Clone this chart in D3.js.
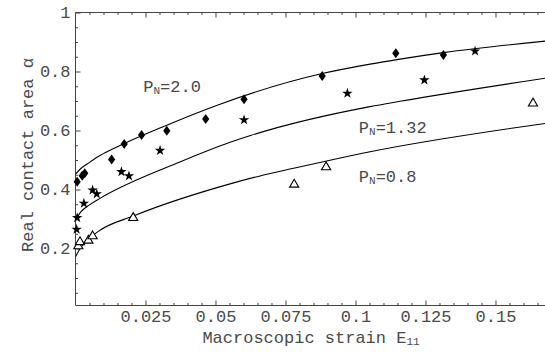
<!DOCTYPE html>
<html><head><meta charset="utf-8">
<script src="https://cdn.jsdelivr.net/npm/d3@7"></script>
<style>body{margin:0;background:#fff}svg{display:block}</style>
</head><body><svg id="c" width="545" height="354"></svg>
<script>
// ---- data ----
const xTicks = [0.025, 0.05, 0.075, 0.1, 0.125, 0.15];
const xTickLabels = ["0.025", "0.05", "0.075", "0.1", "0.125", "0.15"];
const yTicks = [0.2, 0.4, 0.6, 0.8, 1];
const yTickLabels = ["0.2", "0.4", "0.6", "0.8", "1"];
const xMinorTicks = [0.005,0.01,0.015,0.02,0.03,0.035,0.04,0.045,0.055,0.06,0.065,0.07,0.08,0.085,0.09,0.095,0.105,0.11,0.115,0.12,0.13,0.135,0.14,0.145,0.155,0.16,0.165];
const yMinorTicks = [0.05,0.1,0.15,0.25,0.3,0.35,0.45,0.5,0.55,0.65,0.7,0.75,0.85,0.9,0.95];

// fitted curves [E11, alpha]
const fitP20 = [[0,0.452],[0.002,0.472],[0.005,0.492],[0.00875,0.515],[0.015,0.545],[0.0326,0.618],[0.0504,0.685],[0.0881,0.793],[0.1052,0.825],[0.1159,0.842],[0.1314,0.864],[0.1677,0.903]];
const fitP132 = [[0,0.297],[0.002,0.325],[0.005,0.348],[0.00875,0.37],[0.0375,0.494],[0.0552,0.56],[0.0625,0.583],[0.1052,0.681],[0.1159,0.699],[0.1677,0.777]];
const fitP08 = [[0,0.172],[0.002,0.205],[0.005,0.235],[0.00875,0.262],[0.0206,0.31],[0.0552,0.419],[0.0659,0.446],[0.0779,0.472],[0.0893,0.496],[0.1052,0.528],[0.1677,0.624]];

// measured points [E11, alpha]
const ptsP20 = [[0.0006,0.426],[0.0024,0.447],[0.0033,0.455],[0.0129,0.502],[0.0174,0.554],[0.0236,0.585],[0.0326,0.599],[0.0465,0.639],[0.0602,0.706],[0.0881,0.785],[0.1144,0.862],[0.1314,0.856]];
const ptsP132 = [[0.0004,0.265],[0.0006,0.304],[0.0030,0.353],[0.0061,0.398],[0.0076,0.385],[0.0164,0.46],[0.0191,0.446],[0.0302,0.532],[0.0602,0.636],[0.0971,0.726],[0.1246,0.771],[0.1427,0.869]];
const ptsP08 = [[0.0010,0.212],[0.0016,0.226],[0.0046,0.231],[0.0061,0.246],[0.0206,0.308],[0.0781,0.421],[0.0895,0.48],[0.1634,0.696]];

const curveLabels = [
  {p:"2.0", e:0.0242, a:0.729},
  {p:"1.32", e:0.1012, a:0.593},
  {p:"0.8", e:0.1012, a:0.424}
];

// ---- drawing ----
const FONT = "'Liberation Mono', 'Courier New', monospace";
const FS = 17;
const TXT = "#4a4a4a";
const svg = d3.select("#c");
const x = d3.scaleLinear().domain([0, 0.16768]).range([75.5, 545]);
const y = d3.scaleLinear().domain([0.0068, 1]).range([305.5, 12.5]);
const y0 = y.range()[0], y1 = y.range()[1], x0 = x.range()[0], x1 = x.range()[1];

// frame
svg.append("path")
  .attr("d", `M${x1},${y1}H${x0}V${y0}H${x1}`)
  .attr("fill", "none").attr("stroke", "#444").attr("stroke-width", 1);

function styleAxis(g){
  g.select(".domain").remove();
  g.selectAll("line").attr("stroke", "#444");
  g.selectAll("text").attr("fill", TXT).attr("font-family", FONT).attr("font-size", FS);
}
// bottom
svg.append("g").attr("transform", `translate(0,${y0})`)
  .call(d3.axisBottom(x).tickValues(xTicks).tickFormat((d,i)=>xTickLabels[i]).tickSizeInner(-5).tickSizeOuter(0).tickPadding(4.5))
  .call(styleAxis);
svg.append("g").attr("transform", `translate(0,${y0})`)
  .call(d3.axisBottom(x).tickValues(xMinorTicks).tickFormat("").tickSizeInner(-2.5).tickSizeOuter(0))
  .call(styleAxis);
// top
svg.append("g").attr("transform", `translate(0,${y1})`)
  .call(d3.axisTop(x).tickValues(xTicks).tickFormat("").tickSizeInner(-5).tickSizeOuter(0))
  .call(styleAxis);
svg.append("g").attr("transform", `translate(0,${y1})`)
  .call(d3.axisTop(x).tickValues(xMinorTicks).tickFormat("").tickSizeInner(-2.5).tickSizeOuter(0))
  .call(styleAxis);
// left
svg.append("g").attr("transform", `translate(${x0},0)`)
  .call(d3.axisLeft(y).tickValues(yTicks).tickFormat((d,i)=>yTickLabels[i]).tickSizeInner(-5).tickSizeOuter(0).tickPadding(5))
  .call(styleAxis);
svg.append("g").attr("transform", `translate(${x0},0)`)
  .call(d3.axisLeft(y).tickValues(yMinorTicks).tickFormat("").tickSizeInner(-2.5).tickSizeOuter(0))
  .call(styleAxis);

// axis titles
const xt = svg.append("text").attr("x", 311).attr("y", 343).attr("text-anchor", "middle")
  .attr("font-family", FONT).attr("font-size", FS).attr("fill", TXT);
xt.append("tspan").text("Macroscopic strain E");
xt.append("tspan").attr("font-size", 11).attr("dy", 2).text("11");

svg.append("text").attr("transform", "translate(33,155) rotate(-90)").attr("text-anchor", "middle")
  .attr("font-family", FONT).attr("font-size", FS).attr("fill", TXT)
  .text("Real contact area α");

// curves
const line = d3.line().x(d=>x(d[0])).y(d=>y(d[1])).curve(d3.curveMonotoneX);
svg.append("clipPath").attr("id","pc").append("rect")
  .attr("x", x0).attr("y", y1).attr("width", x1-x0).attr("height", y0-y1);
[fitP20, fitP132, fitP08].forEach(s=>{
  svg.append("path").datum(s).attr("d", line).attr("fill","none")
    .attr("stroke","#000").attr("stroke-width",1.1).attr("clip-path","url(#pc)");
});

// markers
const diamond = "M0,-5L3.6,0L0,5L-3.6,0Z";
const tri = "M0,-4L4.6,3.8L-4.6,3.8Z";
svg.append("g").selectAll("path").data(ptsP20).join("path")
  .attr("transform", d=>`translate(${x(d[0])},${y(d[1])})`).attr("d", diamond).attr("fill","#000");
svg.append("g").selectAll("path").data(ptsP132).join("path")
  .attr("transform", d=>`translate(${x(d[0])},${y(d[1])})`).attr("d", d3.symbol(d3.symbolStar, 34)).attr("fill","#000");
svg.append("g").selectAll("path").data(ptsP08).join("path")
  .attr("transform", d=>`translate(${x(d[0])},${y(d[1])})`).attr("d", tri)
  .attr("fill","#fff").attr("stroke","#000").attr("stroke-width",1.1);

// curve labels P_N=...
curveLabels.forEach(l=>{
  const t = svg.append("text").attr("x", x(l.e)).attr("y", y(l.a))
    .attr("font-family", FONT).attr("font-size", FS).attr("fill", TXT);
  t.append("tspan").text("P");
  t.append("tspan").attr("font-size", 11).attr("dy", 2).text("N");
  t.append("tspan").attr("dy", -2).text("=" + l.p);
});
</script></body></html>
